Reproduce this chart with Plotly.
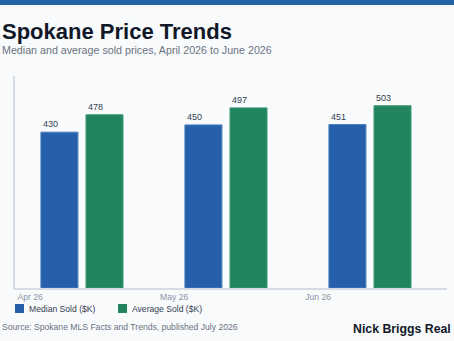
import plotly.graph_objects as go

months = ["Apr 26", "May 26", "Jun 26"]
series_names = ["Median Sold ($K)", "Average Sold ($K)"]
median_sold = [430, 450, 451]
average_sold = [478, 497, 503]

colors = ["#2660aa", "#22845e"]
line_colors = ["#4a7fc0", "#3f9a76"]
FONT = "Liberation Sans, Arial, sans-serif"
SMALL = 8.6

W, H = 454, 341
L, R, T, B = 15, 7, 76, 53
PW, PH = W - L - R, H - T - B

def px(x):
    return (x - L) / PW

def py(y):
    return 1 - (y - T) / PH

pos = list(range(len(months)))
bar_w = 0.257
offsets = [-0.285, 0.028]

fig = go.Figure()
annotations = []
for name, vals, off, c, lc in zip(series_names, [median_sold, average_sold], offsets, colors, line_colors):
    fig.add_trace(go.Bar(
        x=pos, y=vals, name=name, width=bar_w, offset=off,
        marker=dict(color=c, line=dict(color=lc, width=1)),
        showlegend=False, hoverinfo="skip",
    ))
    for p, v in zip(pos, vals):
        annotations.append(dict(
            x=p + off, y=v, xref="x", yref="y", text=str(v), showarrow=False,
            xanchor="left", yanchor="bottom", yshift=1,
            font=dict(size=9, color="#374151", family=FONT),
        ))

# Title / subtitle / footer
annotations += [
    dict(x=px(0), y=py(31.5), xref="paper", yref="paper", text="<b>Spokane Price Trends</b>",
         showarrow=False, xanchor="left", yanchor="middle",
         font=dict(size=22, color="#111827", family=FONT)),
    dict(x=px(0), y=py(50), xref="paper", yref="paper",
         text="Median and average sold prices, April 2026 to June 2026",
         showarrow=False, xanchor="left", yanchor="middle",
         font=dict(size=10.7, color="#6b7280", family=FONT)),
    dict(x=px(0), y=py(327), xref="paper", yref="paper",
         text="Source: Spokane MLS Facts and Trends, published July 2026",
         showarrow=False, xanchor="left", yanchor="middle",
         font=dict(size=SMALL, color="#6b7280", family=FONT)),
    dict(x=px(453), y=py(329), xref="paper", yref="paper",
         text="<b>Nick Briggs Real</b>",
         showarrow=False, xanchor="right", yanchor="middle",
         font=dict(size=12.3, color="#111827", family=FONT)),
]

shapes = [
    dict(type="rect", xref="paper", yref="paper", x0=px(0), x1=px(W), y0=py(5), y1=py(0),
         fillcolor="#2563a8", line=dict(width=0), layer="above"),
]

# Manual legend
legend_x = [15, 118]
for name, c, lx in zip(series_names, colors, legend_x):
    shapes.append(dict(type="rect", xref="paper", yref="paper",
                       x0=px(lx), x1=px(lx + 9), y0=py(313), y1=py(304),
                       fillcolor=c, line=dict(width=0)))
    annotations.append(dict(x=px(lx + 12), y=py(308.5), xref="paper", yref="paper", text=name,
                            showarrow=False, xanchor="left", yanchor="middle",
                            font=dict(size=SMALL, color="#374151", family=FONT)))

fig.update_layout(
    width=W, height=H,
    margin=dict(l=L, r=R, t=T, b=B),
    paper_bgcolor="#f8fafc", plot_bgcolor="#f8fafc",
    barmode="overlay",
    showlegend=False,
    annotations=annotations,
    shapes=shapes,
    xaxis=dict(range=[-0.465, 2.535], tickvals=[p - 0.36 for p in pos], ticktext=months,
               showgrid=False, zeroline=False, showline=True, linecolor="#d5dce5", linewidth=1.5,
               ticks="", ticklen=0, tickfont=dict(size=SMALL, color="#8a94a3", family=FONT),
               fixedrange=True),
    yaxis=dict(range=[0, 585], showgrid=False, zeroline=False, showline=True, linecolor="#d5dce5",
               linewidth=1.5, showticklabels=False, ticks="", fixedrange=True),
    font=dict(family=FONT),
)

fig.write_html("out.html", config={"displayModeBar": False})
